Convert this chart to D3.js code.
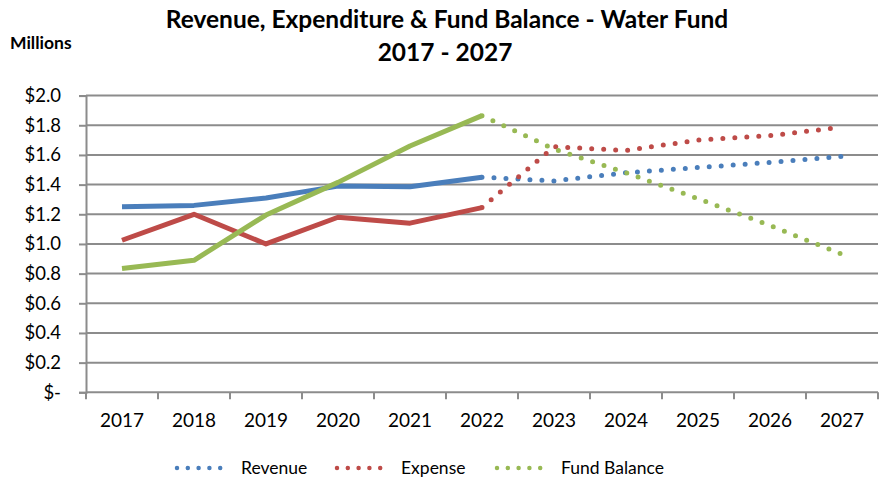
<!DOCTYPE html>
<html>
<head>
<meta charset="utf-8">
<script src="https://cdn.jsdelivr.net/npm/d3@7"></script>
<style>
  body { margin: 0; background: #fff; }
  text { font-family: Lato, "Open Sans", sans-serif; fill: #000; }
</style>
</head>
<body>
<svg id="chart" width="882" height="479"></svg>
<script>
// Water fund: revenue, expenditure and fund balance ($ millions)
const years = ["2017","2018","2019","2020","2021","2022","2023","2024","2025","2026","2027"];
const revenue     = [1.25, 1.26, 1.31, 1.39, 1.385, 1.45, 1.425, 1.48, 1.515, 1.55, 1.59];
const expense     = [1.025, 1.20, 1.00, 1.18, 1.14, 1.245, 1.655, 1.63, 1.70, 1.73, 1.787];
const fundBalance = [0.835, 0.89, 1.195, 1.415, 1.66, 1.865, 1.64, 1.48, 1.305, 1.125, 0.93];
const yTicks = [0, 0.2, 0.4, 0.6, 0.8, 1.0, 1.2, 1.4, 1.6, 1.8, 2.0];
const lastActual = "2022";

const series = [
  { name: "Revenue", values: revenue, color: "#4A7EBB" },
  { name: "Expense", values: expense, color: "#BE4B48" },
  { name: "Fund Balance", values: fundBalance, color: "#98B954" }
];

const svg = d3.select("#chart");
const plotLeft = 86, plotRight = 878, plotTop = 95.6, plotBottom = 392.3;

const x = d3.scaleBand().domain(years).range([plotLeft, plotRight]);
const y = d3.scaleLinear().domain([0, 2]).range([plotBottom, plotTop]);
const cx = d => x(d) + x.bandwidth() / 2;

// Title
svg.append("text").attr("x", 447).attr("y", 28).attr("text-anchor", "middle")
  .attr("font-size", 24.5).attr("font-weight", "bold")
  .text("Revenue, Expenditure & Fund Balance - Water Fund");
svg.append("text").attr("x", 445).attr("y", 61).attr("text-anchor", "middle")
  .attr("font-size", 24.5).attr("font-weight", "bold").text("2017 - 2027");
svg.append("text").attr("x", 10).attr("y", 49)
  .attr("font-size", 17.5).attr("font-weight", "bold").text("Millions");

// Gridlines
svg.append("g").selectAll("line").data(yTicks.filter(t => t > 0)).join("line")
  .attr("x1", plotLeft).attr("x2", plotRight)
  .attr("y1", d => y(d)).attr("y2", d => y(d))
  .attr("stroke", "#8c8c8c").attr("stroke-width", 2);

// Y axis
const yAxis = svg.append("g").attr("transform", `translate(${plotLeft},0)`)
  .call(d3.axisLeft(y).tickValues(yTicks).tickSize(7).tickPadding(18)
    .tickFormat(d => d === 0 ? "$-" : "$" + d3.format(".1f")(d)));
yAxis.select(".domain").attr("stroke", "#8c8c8c").attr("stroke-width", 2);
yAxis.selectAll(".tick line").attr("stroke", "#8c8c8c").attr("stroke-width", 2);
yAxis.selectAll("text").attr("font-size", 18.5).style("font-family", "Lato, sans-serif").attr("fill", "#000");

// X axis
const xAxisG = svg.append("g").attr("transform", `translate(0,${plotBottom})`);
xAxisG.append("line").attr("x1", plotLeft).attr("x2", plotRight).attr("y1", 0).attr("y2", 0)
  .attr("stroke", "#8c8c8c").attr("stroke-width", 2);
xAxisG.selectAll(".tk").data(years.concat(["end"])).join("line").attr("class", "tk")
  .attr("x1", (d, i) => plotLeft + i * x.bandwidth()).attr("x2", (d, i) => plotLeft + i * x.bandwidth())
  .attr("y1", 0).attr("y2", 7).attr("stroke", "#8c8c8c").attr("stroke-width", 2);
xAxisG.selectAll(".lbl").data(years).join("text").attr("class", "lbl")
  .attr("x", d => cx(d)).attr("y", 34.5).attr("text-anchor", "middle")
  .attr("font-size", 19).text(d => d);

// Lines: solid for actuals, dotted for projections
const line = d3.line().x(d => cx(d.year)).y(d => y(d.value));
const split = years.indexOf(lastActual);
series.forEach(s => {
  const pts = years.map((yr, i) => ({ year: yr, value: s.values[i] }));
  svg.append("path").datum(pts.slice(0, split + 1)).attr("d", line)
    .attr("fill", "none").attr("stroke", s.color).attr("stroke-width", 5)
    .attr("stroke-linejoin", "round");
  svg.append("path").datum(pts.slice(split)).attr("d", line)
    .attr("fill", "none").attr("stroke", s.color).attr("stroke-width", 5)
    .attr("stroke-linecap", "round").attr("stroke-dasharray", "0 12")
    .attr("stroke-dashoffset", -12);
});

// Legend
const legendX = [175, 335, 495];
const lg = svg.append("g").selectAll("g").data(series).join("g")
  .attr("transform", (d, i) => `translate(${legendX[i]},468)`);
lg.append("line").attr("x1", 2).attr("x2", 56).attr("y1", 0).attr("y2", 0)
  .attr("stroke", d => d.color).attr("stroke-width", 4.5)
  .attr("stroke-linecap", "round").attr("stroke-dasharray", "0 10.8");
lg.append("text").attr("x", 66).attr("y", 6).attr("font-size", 17.5).text(d => d.name);
</script>
</body>
</html>
